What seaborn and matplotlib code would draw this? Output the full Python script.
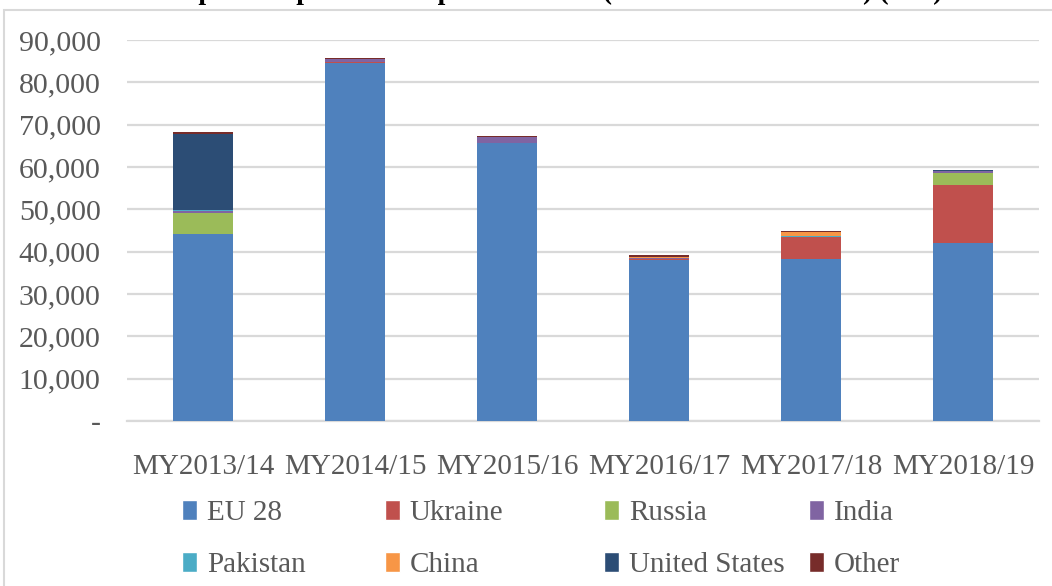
import pandas as pd
import matplotlib.pyplot as plt
import seaborn as sns
from matplotlib.patches import Patch, Rectangle
from matplotlib.ticker import FuncFormatter

sns.set_theme(style='white')
plt.rcParams['font.family'] = ['Liberation Serif', 'DejaVu Serif']

years = ['MY2013/14', 'MY2014/15', 'MY2015/16', 'MY2016/17', 'MY2017/18', 'MY2018/19']
eu28 = [44200, 84500, 65700, 38000, 38300, 42000]
ukraine = [0, 200, 0, 200, 5100, 13700]
russia = [5000, 0, 0, 0, 0, 2900]
india = [400, 700, 1350, 250, 0, 400]
pakistan = [250, 0, 0, 0, 300, 0]
china = [0, 0, 0, 250, 1000, 0]
united_states = [18000, 0, 0, 150, 0, 250]
other = [300, 400, 200, 250, 150, 0]

series = ['EU 28', 'Ukraine', 'Russia', 'India', 'Pakistan', 'China', 'United States', 'Other']
colors = ['#4F81BD', '#C0504D', '#9BBB59', '#8064A2', '#4BACC6', '#F79646', '#2C4D75', '#772C2A']

df = pd.DataFrame({'EU 28': eu28, 'Ukraine': ukraine, 'Russia': russia, 'India': india,
                   'Pakistan': pakistan, 'China': china, 'United States': united_states,
                   'Other': other}, index=years)
cum = df[series].cumsum(axis=1)

W, H = 1052, 586
fig = plt.figure(figsize=(W / 100, H / 100), dpi=100)
ax = fig.add_axes([127 / W, 1 - 421 / H, 912 / W, 381 / H])

# stacked look: draw running totals from the top segment down
for name, col in reversed(list(zip(series, colors))):
    sns.barplot(x=cum.index, y=cum[name].values, color=col, width=0.4,
                saturation=1, errorbar=None, linewidth=0, ax=ax, zorder=3)

ax.set_ylim(0, 90000)
ax.set_yticks(range(0, 90001, 10000))
ax.yaxis.set_major_formatter(FuncFormatter(lambda v, p: '-' if v == 0 else f'{int(v):,}'))
ax.yaxis.grid(True, color='#d9d9d9', linewidth=1.6, zorder=0)
ax.set_axisbelow(True)
for s in ax.spines.values():
    s.set_visible(False)
ax.spines['bottom'].set_visible(True)
ax.spines['bottom'].set_color('#d9d9d9')
ax.spines['bottom'].set_linewidth(1.6)
ax.tick_params(axis='y', length=0, pad=19, labelsize=21.5, labelcolor='#595959')
ax.tick_params(axis='x', length=0, pad=24, labelsize=21, labelcolor='#595959')
ax.set_xlabel('')
ax.set_ylabel('')

# title is clipped at the top edge in the reference
fig.text(0.535, 1.0 + 1 / H, 'Spain: Top Wheat Import Markets (MY2013/14 - 2018/19) (MT)',
         ha='center', va='baseline', fontsize=20, fontweight='bold', color='black')

# chart frame
fig.add_artist(Rectangle((4 / W, -0.1), 1.2, 1.1 - 10 / H, transform=fig.transFigure,
                         fill=False, edgecolor='#d9d9d9', linewidth=1.5))

col_x = [182, 385, 604, 809]
for k, x in enumerate(col_x):
    hs = [Patch(facecolor=colors[k]), Patch(facecolor=colors[k + 4])]
    labs = [series[k], series[k + 4]]
    fig.legend(hs, labs, loc='upper left', bbox_to_anchor=(x / W, 1 - 500 / H),
               frameon=False, borderpad=0, borderaxespad=0, handlelength=0.5,
               handleheight=0.7, handletextpad=0.35, labelspacing=0.86,
               fontsize=21, labelcolor='#595959')

fig.savefig('out.png', dpi=100)
